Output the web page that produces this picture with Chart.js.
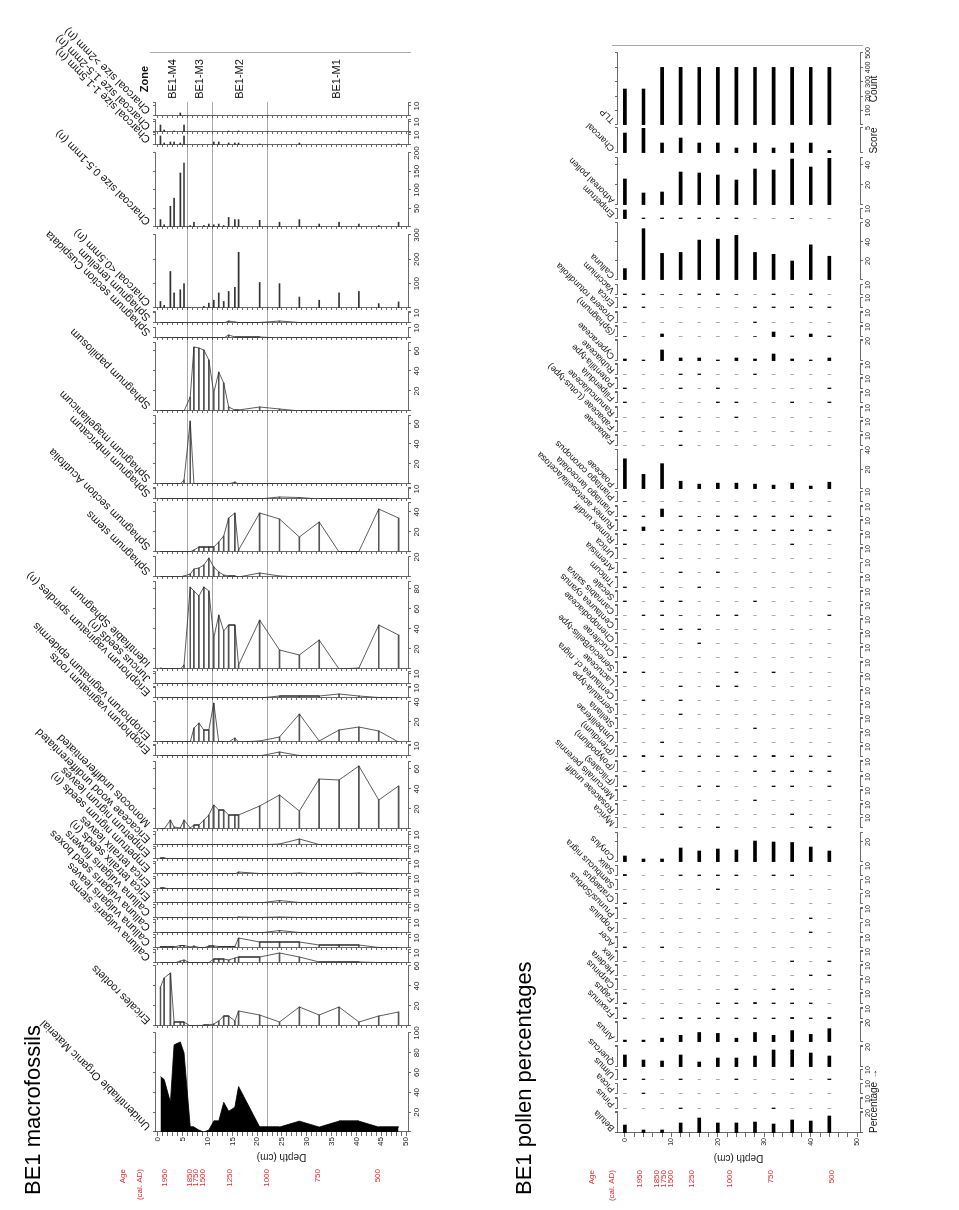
<!DOCTYPE html>
<html>
<head>
<meta charset="utf-8">
<title>BE1 macrofossils and pollen percentages</title>
<script src="https://cdn.jsdelivr.net/npm/chart.js@4.4.1/dist/chart.umd.min.js"></script>
<style>
  html, body { margin: 0; padding: 0; background: #fff; overflow: hidden; width: 959px; height: 1210px; }
  #page { position: absolute; left: 0; top: 0; width: 1210px; height: 959px;
          transform-origin: 0 0; transform: translateY(1210px) rotate(-90deg); }
  #page canvas { position: absolute; }
</style>
</head>
<body>
<div id="page"></div>
<script>
// ---- macrofossils: sample depths (cm) and values ----
const macroDepth = [0.5, 1.25, 2.5, 3.25, 4.5, 5.25, 6.5, 7.25, 8.25, 9.25, 10.25, 11.25, 12.25, 13.25, 14.25, 15.5, 16.25, 20.5, 24.5, 28.5, 32.5, 36.5, 40.5, 44.5, 48.5];

const unidentOM = [56, 53, 30, 88, 91, 80, 5, 5, 2, 0, 2, 11, 11, 30, 21, 25, 46, 5, 5, 11, 5, 11, 11, 5, 5];
const ericalesRootlets = [39, 48, 53, 4, 4, 4, 0, 0, 0, 1, 1, 2, 5, 10, 10, 5, 15, 11, 4, 19, 11, 19, 4, 10, 14];
const callunaStems = [0, 0, 0, 0, 2, 3, 0, 0, 0.5, 0.5, 0.5, 4, 4, 4, 3, 5, 6, 6, 10, 6, 1, 1, 1, 0.5, 0];
const callunaLeaves = [1.5, 1, 1.5, 1, 2.5, 2.5, 1, 2, 0.5, 0, 2, 2, 1.5, 1.5, 1.5, 1.5, 10, 6, 6, 6, 3, 3, 3, 0.5, 0];
const callunaSeedBoxes = [0, 0, 0, 0, 0, 0, 0, 0, 0, 0, 0, 0, 0, 0, 0, 0, 0, 0.5, 2.5, 0.5, 0, 0, 0, 0, 0];
const callunaFlowers = [0, 0, 0, 0, 0, 0, 0, 0, 0, 0, 0, 0, 0, 0, 0, 0, 1, 0.5, 1, 0.5, 0, 0, 0, 0, 0];
const ericaSeeds = [0, 0, 0, 0, 0, 0, 0, 0, 0, 0, 0, 0, 0, 0, 0, 0, 0, 0.5, 2.5, 0.5, 0, 0, 0, 0, 0];
const ericaLeaves = [1, 1, 0, 0, 0, 0, 0, 0, 0, 0, 0, 0, 0, 0, 0.5, 0, 0.5, 0.5, 0.5, 0.5, 0.5, 0.5, 0.5, 0.3, 0];
const empetrumSeeds = [0, 0, 0, 0, 0, 0, 0.5, 0, 0, 0, 0, 0, 0, 0, 0.5, 0, 2, 0.5, 0, 1, 0, 0, 1, 0, 0];
const empetrumLeaves = [1, 1, 0, 0, 0, 0, 0, 0, 0, 0, 0, 0, 0, 0, 0, 0, 0, 0, 0, 0, 0, 0, 0, 0, 0];
const ericaceaeWood = [0, 0, 0, 0, 0, 0, 0, 0, 0, 0, 0, 0, 0, 0, 0, 0, 0, 0, 1, 6, 0.5, 0, 0, 0, 0];
const monocots = [0, 0, 9, 2, 1, 9, 1, 4, 4, 9, 14, 24, 19, 19, 14, 14, 14, 23, 34, 18, 50, 49, 63, 29, 43];
const erioRoots = [0, 0, 0, 0, 0, 0, 0, 0, 0, 0, 0, 0, 0, 0, 0, 0, 0, 0.5, 4, 0.5, 0, 0, 0, 0, 0];
const erioEpidermis = [0, 0, 0, 0, 0, 0, 0, 14, 19, 12, 12, 39, 0, 0, 0, 4, 0, 1, 5, 28, 1, 12, 15, 11, 0];
const erioSpindles = [0, 0, 0, 0, 0, 0, 0, 0, 0, 0, 0, 0, 0, 0, 0, 0, 0, 0.5, 2, 2, 2, 4, 2, 0.5, 0];
const juncusSeeds = [0.3, 0.3, 0.3, 0, 0, 0, 0, 0, 0, 0, 0, 0, 0, 0, 0, 0, 0, 0, 0, 0, 0, 0, 0, 0, 0];
const sphIdentifiable = [1, 0, 0, 0, 0, 4, 82, 78, 73, 82, 78, 31, 54, 38, 44, 44, 4, 49, 19, 14, 29, 0, 1, 44, 34];
const sphStems = [0, 0, 0, 0, 0, 1, 3, 8, 9, 12, 19, 10, 5, 2, 1, 1, 0, 4, 1, 0, 0, 0, 0, 0, 0];
const sphAcutifolia = [0.5, 0, 0, 0, 0, 0, 0, 2, 5, 5, 5, 5, 10, 16, 34, 39, 2, 39, 33, 15, 30, 0, 0.5, 43, 34];
const sphImbricatum = [0, 0, 0, 0, 0, 0, 0, 0, 0, 0, 0, 0, 0, 0, 0, 0.5, 0.5, 0.5, 2, 1.5, 0, 0, 0, 0, 0];
const sphMagellanicum = [0, 0, 0, 0, 0, 4, 63, 0, 0, 0, 0, 0, 0, 0, 0, 2, 0, 0, 0, 0, 0, 0, 0, 0, 0];
const sphPapillosum = [0, 0, 0, 0, 0, 0, 14, 64, 63, 61, 51, 18, 39, 28, 4, 1, 1, 4, 2, 0, 0, 0, 0, 0, 0];
const sphCuspidata = [0, 0, 0, 0, 0, 0, 0, 0, 0, 0, 0, 0, 0, 0, 3, 1, 1, 1, 0, 0, 0, 0, 0, 0, 0];
const sphTenellum = [0, 0, 0, 0, 0, 0, 0, 0, 0, 0, 0, 0, 0, 0, 2, 1, 0.5, 0.5, 2, 0.5, 0, 0, 0, 0, 0];
const charcoalUnder05 = [27, 11, 150, 62, 75, 100, 0, 0, 0, 7, 20, 32, 62, 27, 68, 85, 229, 105, 100, 45, 32, 62, 68, 18, 25];
const charcoal05to1 = [20, 6, 56, 78, 146, 173, 4, 13, 0, 4, 8, 6, 8, 4, 26, 20, 20, 18, 13, 20, 8, 13, 8, 4, 13];
const charcoal1to15 = [9, 2, 3, 3, 2, 9, 0, 0, 0, 0, 0, 3, 3, 0, 2, 2, 2, 1, 0, 2, 0, 0, 0, 0, 1];
const charcoal15to2 = [7, 2, 0, 1, 0, 7, 0, 0, 0, 0, 0, 0, 0, 0, 1, 0, 1, 0, 0, 0, 0, 1, 0, 0, 0];
const charcoalOver2 = [0, 0, 0, 0, 3, 0, 0, 0, 0, 0, 0, 0, 0, 0, 0, 0, 0, 0, 0, 0, 0, 0, 0, 0, 0];

const zoneNames = ['BE1-M4', 'BE1-M3', 'BE1-M2', 'BE1-M1'];
const zoneBounds = [0, 5.9, 10.9, 22, 50];

// ---- pollen: sample depths (cm) and percentages ----
const pollenDepth = [0, 4, 8, 12, 16, 20, 24, 28, 32, 36, 40, 44];

const tlp = [250, 250, 400, 400, 400, 400, 400, 400, 400, 400, 400, 400];
const charcoalScore = [4, 5, 2, 3, 2, 2, 1, 2, 1, 2, 2, 0.5];
const arboreal = [26, 12, 13, 33, 32, 30, 25, 36, 35, 46, 38, 47];
const empetrum = [9, 1, 1, 1, 1, 1, 1, 0, 0, 0.5, 0, 0];
const calluna = [12, 54, 28, 29, 42, 43, 47, 29, 27, 20, 37, 25];
const vaccinium = [1, 1, 0.5, 0.5, 1, 1, 0.5, 0, 1, 0, 1, 0];
const erica = [1, 1, 0, 0, 0, 0, 0, 1, 1, 1, 1, 1];
const drosera = [0, 0, 0, 0, 0, 0, 0, 1, 0, 0, 0, 0];
const sphagnumSpores = [0.5, 0, 3, 0, 0, 0, 0, 0.5, 5, 1, 3, 1];
const cyperaceae = [2, 1, 11, 3, 3, 1, 3, 2, 7, 2, 1, 3];
const rubiaceae = [0, 0, 0, 1, 1, 0, 0, 1, 0, 0, 0, 0];
const potentilla = [1, 0, 0, 1, 0, 1, 0, 0, 0, 0, 0, 1];
const filipendula = [1, 0, 0, 0, 0, 1, 1, 0, 0, 1, 0, 1];
const ranunculaceae = [0, 0, 1, 1, 0, 0, 1, 0, 0, 0, 0, 0];
const lotusType = [0, 0, 0, 1, 0, 0, 0, 0, 0, 0, 0, 0];
const fabaceae = [0, 0, 0, 1, 0, 0, 0, 0, 0, 0, 0, 0];
const poaceae = [31, 15, 26, 8, 5, 6, 6, 5, 4, 6, 3, 7];
const plantagoCor = [0.5, 0, 0, 0, 0, 0, 0, 0, 0, 0, 0, 0];
const plantagoLan = [1, 1, 8, 1, 0.5, 1, 1, 1, 1, 1, 1, 1];
const rumexAcet = [1, 4, 1, 1, 1, 1, 1, 1, 1, 1, 1, 1];
const rumexUndiff = [1, 0, 1, 0, 0, 0, 0, 0, 0, 1, 0, 0];
const urtica = [0, 0, 1, 0, 0, 0, 0, 0, 0, 0, 0, 0];
const artemisia = [1, 0, 0, 1, 0, 1, 0, 0, 0, 0, 0, 0];
const triticum = [1, 0, 1, 0, 1, 0, 0, 0, 0, 0, 0, 0];
const secale = [1, 0, 1, 1, 0, 0, 0, 1, 0, 0, 0, 0];
const cannabis = [0, 1, 1, 0.5, 0, 1, 1, 0, 0, 0, 0, 1];
const centCyanus = [0, 0, 1, 1, 1, 0, 0, 0, 0, 0, 0, 0];
const chenopod = [0, 0, 0, 0, 1, 0, 0, 0, 0, 0, 0, 0];
const cruciferae = [1, 0, 0, 0, 0, 0, 0, 0, 0, 0, 0, 0];
const senecio = [1, 1, 0, 0, 0, 0, 1, 0, 1, 0, 0, 0];
const lactuceae = [0, 0, 0, 1, 0, 1, 1, 0, 0, 0, 0, 0];
const centNigra = [0, 1, 0, 1, 0, 0, 0, 0, 0, 0, 0, 0];
const serratula = [0, 0, 0, 1, 0, 0, 0, 0, 0, 0, 0, 0];
const stellaria = [0, 0, 0, 0, 0, 0, 0, 1, 0, 0, 0, 0];
const umbelliferae = [0, 0, 1, 0, 0, 0, 0, 0, 0, 0, 0, 0];
const pteridium = [1, 1.5, 1, 1, 1, 1, 1, 1, 1.5, 1, 1, 1];
const polypodium = [0, 1, 0, 0, 0, 0, 0, 1, 1, 1, 1, 1];
const filicales = [1, 0, 0, 0, 1, 1, 0, 0, 1, 1, 0, 1];
const mercurialis = [0, 0, 0, 0, 0, 0, 0, 1, 0, 0, 0, 0];
const rosaceae = [0, 0, 1, 0, 0, 0, 0, 0, 0, 1, 0, 0];
const myrica = [0, 0, 0, 1, 0, 1, 0, 0, 0, 0, 1, 1];
const corylus = [6, 3, 3, 14, 11, 13, 12, 21, 20, 19.5, 15, 11];
const salix = [1.5, 0, 0, 1, 1, 1, 1, 0, 1, 1, 0, 0];
const sambucus = [0, 0, 0, 0, 0, 1, 0, 0, 0, 0, 0, 0];
const crataegus = [1, 0, 0, 0, 0, 0, 0, 0, 0, 0, 0, 0];
const prunus = [0, 0, 0, 0, 0, 0, 0, 0, 0, 0, 1, 0];
const populus = [0, 0, 0, 0, 0, 0, 0, 0, 0, 0, 1, 0];
const acer = [1, 0, 1, 0, 0, 0, 0, 0, 0, 0, 0, 0];
const ilex = [0, 0, 0, 0, 0, 0, 0, 0, 0, 1, 0, 1];
const hedera = [0, 0, 0, 0, 0, 0, 0, 0, 0, 0, 1, 1];
const carpinus = [0, 0, 0, 0, 0, 0, 1, 0, 1, 1, 0, 0];
const fagus = [1, 0, 0, 0, 0, 1, 1, 1.5, 1, 1, 1, 0];
const fraxinus = [1, 0, 1, 1.5, 1, 1, 1, 1, 1, 1.5, 1, 1.5];
const alnus = [2, 2, 4, 7, 10, 9, 4, 10, 7, 12, 8, 14];
const quercus = [12, 7, 6, 12, 5, 9, 9, 11, 17, 17, 14, 11];
const ulmus = [1, 1, 0, 1, 0, 0, 1, 0, 0, 1, 0, 1];
const picea = [0, 1, 0, 0, 0, 0, 0, 0, 0, 0, 0, 0];
const pinus = [0, 0, 0, 1, 0, 0, 0, 0, 1, 0, 0, 0];
const betula = [8, 3, 3, 10, 15, 10, 10, 11, 9, 13, 12, 17];

// age scale (cal. AD) against depth
const ageLabels = ['1950', '1850', '1750', '1500', '1250', '1000', '750', '500'];
const macroAgeDepth = [1.4, 6.5, 7.7, 9.1, 14.5, 22, 32.3, 44.4];
const pollenAgeDepth = [3.2, 6.9, 8.4, 9.9, 14.4, 22.6, 31.3, 44.6];

// ---- drawing ----
const PAGE_W = 1210;
const RED = '#e3262b';
const FONT = "'Liberation Sans', Arial, Helvetica, sans-serif";
Chart.defaults.font.family = FONT;
Chart.defaults.color = '#222';
const page = document.getElementById('page');

function steps(from, to, step) {
  const out = [];
  for (let v = from; v <= to + 1e-9; v += step) out.push(Math.round(v * 1000) / 1000);
  return out;
}

// panel layout: base = row of the zero line in the picture, w = panel size in px
const macroPanels = [
  {name: 'Unidentifiable Organic Material', values: unidentOM, kind: 'solid', max: 100, step: 20, base: 1132, w: 99},
  {name: 'Ericales rootlets', values: ericalesRootlets, kind: 'area', max: 60, step: 20, base: 1026, w: 60},
  {name: 'Calluna vulgaris stems', values: callunaStems, kind: 'area', max: 13, step: 10, base: 963, w: 13},
  {name: 'Calluna vulgaris leaves', values: callunaLeaves, kind: 'area', max: 13, step: 10, base: 948, w: 13},
  {name: 'Calluna vulgaris seed boxes', values: callunaSeedBoxes, kind: 'area', max: 13, step: 10, base: 933, w: 13},
  {name: 'Calluna vulgaris flowers', values: callunaFlowers, kind: 'area', max: 13, step: 10, base: 918, w: 13},
  {name: 'Erica tetralix seeds (n)', values: ericaSeeds, kind: 'area', max: 12, step: 10, base: 903, w: 12},
  {name: 'Erica tetralix leaves', values: ericaLeaves, kind: 'area', max: 12, step: 10, base: 889, w: 12},
  {name: 'Empetrum nigrum seeds (n)', values: empetrumSeeds, kind: 'area', max: 12, step: 10, base: 874, w: 12},
  {name: 'Empetrum nigrum leaves', values: empetrumLeaves, kind: 'area', max: 12, step: 10, base: 859, w: 12},
  {name: 'Ericaceae wood undifferentiated', values: ericaceaeWood, kind: 'area', max: 13, step: 10, base: 845, w: 13},
  {name: 'Monocots undifferentiated', values: monocots, kind: 'area', max: 67, step: 20, base: 829, w: 67},
  {name: 'Eriophorum vaginatum roots', values: erioRoots, kind: 'area', max: 11, step: 10, base: 756, w: 11},
  {name: 'Eriophorum vaginatum epidermis', values: erioEpidermis, kind: 'area', max: 40, step: 20, base: 742, w: 40},
  {name: 'Eriophorum vaginatum spindles (n)', values: erioSpindles, kind: 'area', max: 11, step: 10, base: 698, w: 11},
  {name: 'Juncus seeds (n)', values: juncusSeeds, kind: 'area', max: 12, step: 10, base: 684, w: 12},
  {name: 'Identifiable Sphagnum', values: sphIdentifiable, kind: 'area', max: 87, step: 20, base: 669, w: 87},
  {name: 'Sphagnum stems', values: sphStems, kind: 'area', max: 20, step: 20, base: 577, w: 20},
  {name: 'Sphagnum section Acutifolia', values: sphAcutifolia, kind: 'area', max: 49, step: 20, base: 552, w: 49},
  {name: 'Sphagnum imbricatum', values: sphImbricatum, kind: 'area', max: 11, step: 10, base: 499, w: 11},
  {name: 'Sphagnum magellanicum', values: sphMagellanicum, kind: 'area', max: 68, step: 20, base: 484, w: 68},
  {name: 'Sphagnum papillosum', values: sphPapillosum, kind: 'area', max: 68, step: 20, base: 411, w: 68},
  {name: 'Sphagnum section Cuspidata', values: sphCuspidata, kind: 'area', max: 10, step: 10, base: 338, w: 10},
  {name: 'Sphagnum tenellum', values: sphTenellum, kind: 'area', max: 11, step: 10, base: 323, w: 11},
  {name: 'Charcoal <0.5mm (n)', values: charcoalUnder05, kind: 'spike', max: 300, step: 100, base: 308, w: 73},
  {name: 'Charcoal size 0.5-1mm (n)', values: charcoal05to1, kind: 'spike', max: 200, step: 50, base: 227, w: 74},
  {name: 'Charcoal size 1-1.5mm (n)', values: charcoal1to15, kind: 'spike', max: 12, step: 10, base: 145, w: 12},
  {name: 'Charcoal size 1.5-2mm (n)', values: charcoal15to2, kind: 'spike', max: 12, step: 10, base: 132, w: 12},
  {name: 'Charcoal size >2mm (n)', values: charcoalOver2, kind: 'spike', max: 13, step: 10, base: 116, w: 13}
];

const pollenPanels = [
  {name: 'Betula', values: betula, max: 21, step: 20, base: 1133, w: 21, title: 'Percentage \u2192', titleAlign: 'start'},
  {name: 'Pinus', values: pinus, base: 1109},
  {name: 'Picea', values: picea, base: 1094, w: 10, max: 10},
  {name: 'Ulmus', values: ulmus, base: 1080, w: 10, max: 10},
  {name: 'Quercus', values: quercus, max: 21, step: 20, base: 1067, w: 21},
  {name: 'Alnus', values: alnus, max: 21, step: 20, base: 1042, w: 20},
  {name: 'Fraxinus', values: fraxinus, base: 1019},
  {name: 'Fagus', values: fagus, base: 1004},
  {name: 'Carpinus', values: carpinus, base: 990},
  {name: 'Hedera', values: hedera, base: 976},
  {name: 'Ilex', values: ilex, base: 962},
  {name: 'Acer', values: acer, base: 948},
  {name: 'Populus', values: populus, base: 933, w: 10, max: 10},
  {name: 'Prunus/Sorbus', values: prunus, base: 919},
  {name: 'Crataegus', values: crataegus, base: 904, w: 10, max: 10},
  {name: 'Sambucus nigra', values: sambucus, base: 890, w: 10, max: 10},
  {name: 'Salix', values: salix, base: 876, w: 10, max: 10},
  {name: 'Corylus', values: corylus, max: 29, step: 20, base: 862, w: 29},
  {name: 'Myrica', values: myrica, base: 828, w: 10, max: 10},
  {name: 'Rosaceae undiff.', values: rosaceae, base: 815},
  {name: 'Mercurialis perennis', values: mercurialis, base: 801},
  {name: '(Filicales)', values: filicales, base: 787},
  {name: '(Polypodium)', values: polypodium, base: 772},
  {name: '(Pteridium)', values: pteridium, base: 757},
  {name: 'Umbelliferae', values: umbelliferae, base: 743},
  {name: 'Stellaria', values: stellaria, base: 729},
  {name: 'Serratula-type', values: serratula, base: 715},
  {name: 'Centaurea cf. nigra', values: centNigra, base: 701},
  {name: 'Lactuceae', values: lactuceae, base: 687},
  {name: 'Senecio/Bellis-type', values: senecio, base: 673},
  {name: 'Cruciferae', values: cruciferae, base: 658},
  {name: 'Chenopodiaceae', values: chenopod, base: 644},
  {name: 'Centaurea cyanus', values: centCyanus, base: 630},
  {name: 'Cannabis sativa', values: cannabis, base: 616},
  {name: 'Secale', values: secale, base: 602},
  {name: 'Triticum', values: triticum, base: 588},
  {name: 'Artemisia', values: artemisia, base: 573, w: 10, max: 10},
  {name: 'Urtica', values: urtica, base: 559},
  {name: 'Rumex undiff.', values: rumexUndiff, base: 545},
  {name: 'Rumex acetosella/acetosa', values: rumexAcet, base: 531},
  {name: 'Plantago lanceolata', values: plantagoLan, base: 517},
  {name: 'Plantago coronopus', values: plantagoCor, base: 502, w: 10, max: 10},
  {name: 'Poaceae', values: poaceae, max: 40, step: 20, base: 489, w: 39},
  {name: 'Fabaceae', values: fabaceae, base: 446},
  {name: 'Fabaceae (Lotus-type)', values: lotusType, base: 432},
  {name: 'Ranunculaceae', values: ranunculaceae, base: 418},
  {name: 'Filipendula', values: filipendula, base: 403},
  {name: 'Potentilla-type', values: potentilla, base: 389},
  {name: 'Rubiaceae', values: rubiaceae, base: 375},
  {name: 'Cyperaceae', values: cyperaceae, max: 21, step: 20, base: 361, w: 21},
  {name: '(Sphagnum)', values: sphagnumSpores, base: 337},
  {name: 'Drosera rotundifolia', values: drosera, base: 323},
  {name: 'Erica', values: erica, base: 308, w: 10, max: 10},
  {name: 'Vaccinium', values: vaccinium, base: 295, w: 10, max: 10},
  {name: 'Calluna', values: calluna, max: 60, step: 20, base: 280, w: 57},
  {name: 'Empetrum', values: empetrum, base: 219, w: 10, max: 10},
  {name: 'Arboreal pollen', values: arboreal, max: 47, step: 20, base: 205, w: 47},
  {name: 'Charcoal', values: charcoalScore, max: 5, step: 5, base: 153, w: 25, title: 'Score'},
  {name: 'TLP', values: tlp, max: 500, step: 100, base: 125, w: 72, title: 'Count'}
].map(p => Object.assign({kind: 'pollen', max: 11, step: 10, w: 11}, p));

const macroFrame = {top: 0, height: 450, areaTop: 155, areaBottom: 408, min: -0.6, max: 50.4,
  depths: macroDepth, depthTicks: steps(0, 50, 1), labelStep: 5, xh: 14, tickSize: 8,
  labelSize: 11, labelDx: 6, labelDy: 4, baseline: true};
const pollenFrame = {top: 480, height: 479, areaTop: 617, areaBottom: 860, min: -1.7, max: 50.6,
  depths: pollenDepth, depthTicks: steps(0, 50, 2), labelStep: 10, xh: 14, tickSize: 7,
  labelSize: 9, labelDx: 5, labelDy: 2, baseline: false};

// taxon name at 45 degrees over the panel, plus the unit under the axis
const taxonLabel = {
  id: 'taxonLabel',
  afterDraw(chart, args, o) {
    const {ctx, chartArea} = chart;
    ctx.save();
    ctx.fillStyle = '#111';
    if (o.under) {
      ctx.font = '10px ' + FONT;
      ctx.textBaseline = 'middle';
      ctx.textAlign = o.underAlign === 'start' ? 'left' : 'center';
      const ux = o.underAlign === 'start' ? chartArea.left : (chartArea.left + chartArea.right) / 2;
      ctx.fillText(o.under, ux, chartArea.bottom + 14);
    }
    ctx.translate(chartArea.left + o.dx, chartArea.top - o.dy);
    ctx.rotate(-Math.PI / 4);
    ctx.font = o.size + 'px ' + FONT;
    ctx.textAlign = 'left';
    ctx.textBaseline = 'alphabetic';
    ctx.fillText(o.text, 0, 0);
    ctx.restore();
  }
};

const decor = {
  id: 'decor',
  beforeDatasetsDraw(chart, args, o) {
    if (!o.zones) return;
    const {ctx, chartArea} = chart;
    const ys = chart.scales.y;
    ctx.save();
    ctx.strokeStyle = '#aaa';
    ctx.lineWidth = 1;
    zoneBounds.slice(1, -1).forEach(d => {
      const py = Math.round(ys.getPixelForValue(d)) + 0.5;
      ctx.beginPath();
      ctx.moveTo(chartArea.left, py);
      ctx.lineTo(o.zoneRight, py);
      ctx.stroke();
    });
    ctx.restore();
  },
  afterDraw(chart, args, o) {
    if (!o.title) return;
    const {ctx, chartArea} = chart;
    const ys = chart.scales.y;
    const age = chart.scales.age;
    ctx.save();
    ctx.fillStyle = '#000';
    ctx.font = '22px ' + FONT;
    ctx.textAlign = 'left';
    ctx.textBaseline = 'alphabetic';
    ctx.fillText(o.title, o.titleX, o.titleY);

    ctx.fillStyle = RED;
    ctx.font = '8px ' + FONT;
    ctx.textAlign = 'right';
    ctx.textBaseline = 'middle';
    ctx.fillText('Age', age.right - 2, chartArea.top + o.ageHead[0]);
    ctx.fillText('(cal. AD)', age.right - 2, chartArea.top + o.ageHead[1]);

    ctx.strokeStyle = '#aaa';
    ctx.lineWidth = 1;
    ctx.beginPath();
    ctx.moveTo(o.topLineX + 0.5, chartArea.top - 5);
    ctx.lineTo(o.topLineX + 0.5, chartArea.bottom + 3);
    ctx.stroke();

    if (o.zones) {
      ctx.fillStyle = '#111';
      ctx.textAlign = 'center';
      ctx.font = 'bold 11px ' + FONT;
      ctx.fillText('Zone', o.zoneX, chartArea.top - 10);
      ctx.font = '11px ' + FONT;
      zoneNames.forEach((z, i) => {
        const mid = (zoneBounds[i] + zoneBounds[i + 1]) / 2;
        ctx.fillText(z, o.zoneX, ys.getPixelForValue(mid));
      });
    }
    ctx.restore();
  }
};

function addPanel(frame, p, lead) {
  const colLeft = PAGE_W - p.base;
  const axisW = lead ? lead.ageW + lead.depthW : 0;
  const cvLeft = lead ? 0 : colLeft - 24;
  const cvW = lead ? PAGE_W : 24 + p.w + 170;
  const padL = colLeft - cvLeft - axisW;
  const padR = cvW - (colLeft - cvLeft) - p.w;
  const xh = frame.xh;
  const line = '#444';

  const cv = document.createElement('canvas');
  cv.width = cvW;
  cv.height = frame.height;
  cv.style.left = cvLeft + 'px';
  cv.style.top = frame.top + 'px';
  page.appendChild(cv);

  const pts = p.values.map((v, i) => ({x: v, y: frame.depths[i]}));
  const datasets = [];
  if (p.kind === 'solid') {
    datasets.push({type: 'line', data: pts, borderColor: '#000', backgroundColor: '#000',
      borderWidth: 0.8, pointRadius: 0, fill: 'origin'});
  } else if (p.kind === 'area') {
    datasets.push({type: 'line', data: pts, borderColor: '#333', borderWidth: 0.8, pointRadius: 0, fill: false});
    datasets.push({type: 'bar', data: pts, backgroundColor: '#555', barThickness: 1});
  } else if (p.kind === 'spike') {
    datasets.push({type: 'bar', data: pts, backgroundColor: '#333', barThickness: 1});
  } else {
    datasets.push({type: 'bar', data: pts, backgroundColor: '#000', barThickness: 3});
  }

  const valueTicks = steps(0, p.max, p.step);
  if (valueTicks[valueTicks.length - 1] < p.max) valueTicks.push(p.max);

  const scales = {
    x: {
      type: 'linear', axis: 'x', position: 'bottom', min: 0, max: p.max,
      afterBuildTicks: s => { s.ticks = valueTicks.map(v => ({value: v})); },
      afterFit: s => { s.height = xh; },
      ticks: {autoSkip: false, maxRotation: 0, minRotation: 0, padding: 1, color: '#222',
        font: {size: frame.tickSize},
        callback: v => (v > 0 && v % p.step === 0) ? String(v) : ''},
      grid: {drawOnChartArea: false, tickLength: 3, color: line, lineWidth: 0.8},
      border: {color: line, width: 0.8}
    },
    xTop: {
      type: 'linear', axis: 'x', position: 'top', min: 0, max: p.max,
      afterBuildTicks: s => { s.ticks = valueTicks.map(v => ({value: v})); },
      afterFit: s => { s.height = 0; },
      ticks: {display: false},
      grid: {drawOnChartArea: false, tickLength: 2, color: line, lineWidth: 0.8},
      border: {color: line, width: 0.8}
    },
    y: {
      type: 'linear', axis: 'y', position: 'left', reverse: true, offset: false,
      min: frame.min, max: frame.max,
      display: !!lead || frame.baseline,
      afterBuildTicks: s => { s.ticks = frame.depthTicks.map(v => ({value: v})); },
      afterFit: s => { s.width = lead ? lead.depthW : 0; },
      ticks: {display: !!lead, autoSkip: false, padding: 1, color: '#222', font: {size: frame.tickSize},
        callback: v => v % frame.labelStep === 0 ? String(v) : ''},
      grid: {drawOnChartArea: false, offset: false, tickLength: lead ? 4 : 2, color: line, lineWidth: 0.8},
      border: {color: line, width: 0.8},
      title: {display: !!lead, text: 'Depth (cm)', font: {size: 10}, padding: {top: 4, bottom: 0}, color: '#222'}
    }
  };
  if (lead) {
    scales.age = {
      type: 'linear', axis: 'y', position: 'left', weight: 5, reverse: true, offset: false,
      min: frame.min, max: frame.max,
      afterBuildTicks: s => { s.ticks = lead.ageDepth.map(v => ({value: v})); },
      afterFit: s => { s.width = lead.ageW; },
      ticks: {autoSkip: false, padding: 2, color: RED, font: {size: 8}, callback: (v, i) => ageLabels[i]},
      grid: {display: false, drawTicks: false},
      border: {display: false}
    };
  }

  new Chart(cv.getContext('2d'), {
    type: 'bar',
    data: {datasets},
    options: {
      responsive: false, animation: false, devicePixelRatio: 1, events: [],
      indexAxis: 'y',
      layout: {padding: {left: padL, right: padR, top: frame.areaTop - frame.top,
        bottom: frame.height - (frame.areaBottom - frame.top) - xh}},
      scales,
      plugins: {
        legend: {display: false},
        tooltip: {enabled: false},
        taxonLabel: {text: p.name, dx: frame.labelDx, dy: frame.labelDy, size: frame.labelSize,
          under: p.title || '', underAlign: p.titleAlign || 'center'},
        decor: lead ? lead.decor : {}
      }
    },
    plugins: lead ? [taxonLabel, decor] : [taxonLabel]
  });
}

const macroLead = {ageW: 30, depthW: 35, ageDepth: macroAgeDepth,
  decor: {title: 'BE1 macrofossils', titleX: 15, titleY: 40, ageHead: [-32, -15],
    topLineX: 1157, zones: true, zoneRight: 1108, zoneX: 1131}};
const pollenLead = {ageW: 30, depthW: 35, ageDepth: pollenAgeDepth,
  decor: {title: 'BE1 pollen percentages', titleX: 15, titleY: 531 - pollenFrame.top, ageHead: [-25, -5],
    topLineX: 1164, zones: false}};

macroPanels.forEach((p, i) => addPanel(macroFrame, p, i === 0 ? macroLead : null));
pollenPanels.forEach((p, i) => addPanel(pollenFrame, p, i === 0 ? pollenLead : null));
</script>
</body>
</html>
